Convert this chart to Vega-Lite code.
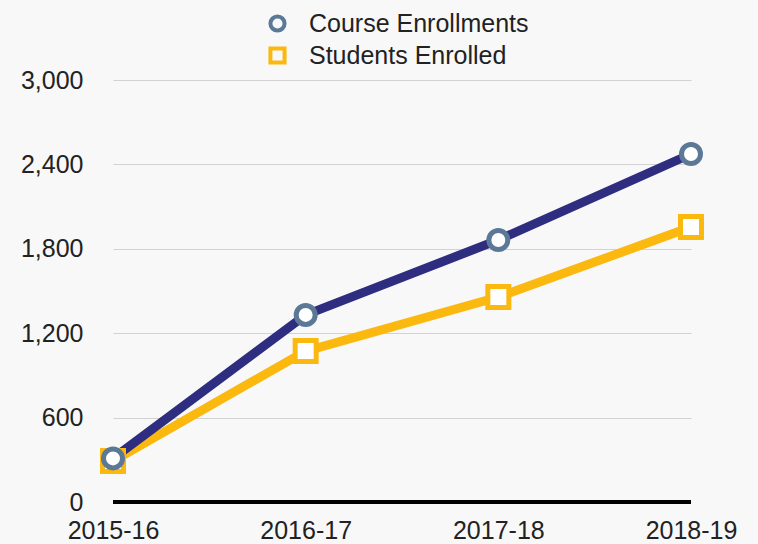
{
  "$schema": "https://vega.github.io/schema/vega-lite/v6.json",
  "width": 578,
  "height": 422,
  "autosize": {"type": "none"},
  "padding": {"left": 113, "top": 80, "right": 67, "bottom": 42},
  "background": "#f8f8f8",
  "config": {
    "view": {"stroke": null},
    "font": "Liberation Sans"
  },
  "data": {
    "values": [
      {"year": "2015-16", "series": "Course Enrollments", "value": 310},
      {"year": "2016-17", "series": "Course Enrollments", "value": 1330},
      {"year": "2017-18", "series": "Course Enrollments", "value": 1863},
      {"year": "2018-19", "series": "Course Enrollments", "value": 2474},
      {"year": "2015-16", "series": "Students Enrolled", "value": 291},
      {"year": "2016-17", "series": "Students Enrolled", "value": 1073},
      {"year": "2017-18", "series": "Students Enrolled", "value": 1457},
      {"year": "2018-19", "series": "Students Enrolled", "value": 1955}
    ]
  },
  "encoding": {
    "x": {
      "field": "year", "type": "ordinal", "title": null,
      "scale": {"type": "point", "padding": 0},
      "axis": {"labelAngle": 0, "ticks": false, "domain": false, "grid": false, "labelPadding": 16,
               "labelFontSize": 25, "labelFont": "Liberation Sans", "labelColor": "#222222"}
    },
    "y": {
      "field": "value", "type": "quantitative", "title": null,
      "scale": {"domain": [0, 3000], "nice": false},
      "axis": {"values": [0, 600, 1200, 1800, 2400, 3000], "format": ",d", "ticks": false, "domain": false,
               "gridColor": "#d2d2d2", "gridWidth": 1, "labelPadding": 30,
               "labelFontSize": 25, "labelFont": "Liberation Sans", "labelColor": "#222222"}
    }
  },
  "layer": [
    {
      "mark": {"type": "rule", "color": "#000000", "strokeWidth": 3},
      "encoding": {"y": {"datum": 0}, "x": null}
    },
    {
      "transform": [{"filter": "datum.series === 'Students Enrolled'"}],
      "mark": {"type": "line", "strokeWidth": 9, "color": "#fbb80f"}
    },
    {
      "transform": [{"filter": "datum.series === 'Course Enrollments'"}],
      "mark": {"type": "line", "strokeWidth": 9, "color": "#2e2d7f"}
    },
    {
      "transform": [{"filter": "datum.series === 'Students Enrolled'"}],
      "mark": {"type": "point", "shape": "square", "size": 441, "filled": true, "fill": "#ffffff", "stroke": "#fbb80f", "strokeWidth": 5, "opacity": 1}
    },
    {
      "transform": [{"filter": "datum.series === 'Course Enrollments'"}],
      "mark": {"type": "point", "shape": "circle", "size": 360, "filled": true, "fill": "#ffffff", "stroke": "#5b7896", "strokeWidth": 5, "opacity": 1}
    },
    {
      "data": {"values": [
        {"series": "Course Enrollments"},
        {"series": "Students Enrolled"}
      ]},
      "mark": {"type": "point", "opacity": 0},
      "encoding": {
        "x": null, "y": null,
        "shape": {"field": "series", "type": "nominal",
          "scale": {"domain": ["Course Enrollments", "Students Enrolled"], "range": ["circle", "square"]},
          "legend": {
            "orient": "none", "legendX": 152, "legendY": -69, "title": null,
            "labelFontSize": 25, "labelFont": "Liberation Sans", "labelColor": "#222222", "labelLimit": 400,
            "symbolSize": 200, "symbolStrokeWidth": 4, "symbolFillColor": "#ffffff",
            "labelOffset": 19, "rowPadding": 1, "symbolOpacity": 1
          }
        },
        "stroke": {"field": "series", "type": "nominal",
          "scale": {"domain": ["Course Enrollments", "Students Enrolled"], "range": ["#5b7896", "#fbb80f"]},
          "legend": {
            "orient": "none", "legendX": 152, "legendY": -69, "title": null,
            "labelFontSize": 25, "labelFont": "Liberation Sans", "labelColor": "#222222", "labelLimit": 400,
            "symbolSize": 200, "symbolStrokeWidth": 4, "symbolFillColor": "#ffffff",
            "labelOffset": 19, "rowPadding": 1, "symbolOpacity": 1
          }
        }
      }
    }
  ]
}
